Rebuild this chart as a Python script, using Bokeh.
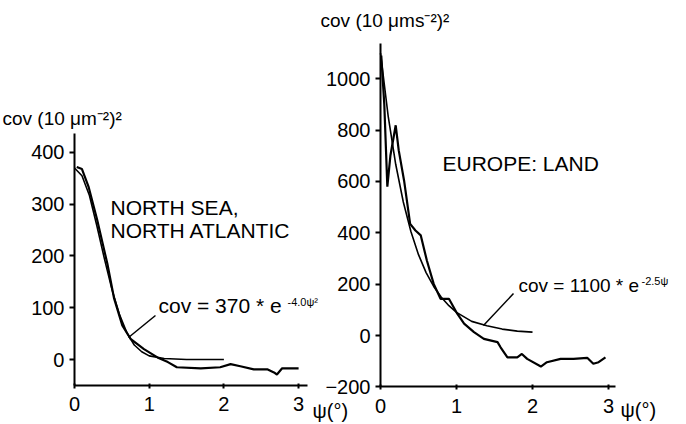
from bokeh.plotting import figure
from bokeh.models import Range1d, LinearAxis, FixedTicker, Label
from bokeh.embed import file_html
from bokeh.resources import INLINE

# ---- data: North Sea / North Atlantic (left panel) ----
left_obs_psi = [0.03, 0.10, 0.19, 0.30, 0.44, 0.53, 0.64, 0.75, 0.93, 1.11, 1.25, 1.37,
                1.69, 1.95, 2.09, 2.22, 2.40, 2.58, 2.67, 2.71, 2.78, 3.00]
left_obs_cov = [372, 368, 333, 272, 185, 118, 66, 40, 20, 4, -5, -15,
                -17, -15, -9, -13, -19, -19, -25, -29, -17, -17]
left_fit_psi = [0.0, 0.1, 0.2, 0.3, 0.4, 0.5, 0.6, 0.7, 0.8, 0.9, 1.0, 1.2, 1.5, 2.0]
left_fit_cov = [370, 355, 317, 258, 195, 136, 88, 52, 28, 15, 7, 2, 0, 0]

# ---- data: Europe land (right panel) ----
right_obs_psi = [0.01, 0.05, 0.09, 0.13, 0.20, 0.24, 0.31, 0.39, 0.46, 0.53, 0.61, 0.70,
                 0.79, 0.90, 1.01, 1.10, 1.23, 1.36, 1.54, 1.58, 1.67, 1.80, 1.86, 1.93,
                 2.11, 2.19, 2.37, 2.54, 2.72, 2.80, 2.87, 2.96]
right_obs_cov = [1090, 900, 580, 700, 819, 721, 604, 435, 409, 390, 292, 201,
                 143, 143, 85, 46, 13, -13, -26, -46, -85, -85, -72, -91,
                 -121, -104, -91, -91, -87, -110, -104, -85]
right_fit_psi = [0.0, 0.1, 0.2, 0.3, 0.4, 0.5, 0.6, 0.7, 0.8, 0.9, 1.0, 1.2, 1.4, 1.6, 1.8, 2.0]
right_fit_cov = [1100, 857, 667, 520, 405, 315, 245, 191, 149, 116, 90, 55, 38, 25, 17, 13]

left_y_ticks = [0, 100, 200, 300, 400]
right_y_ticks = [-200, 0, 200, 400, 600, 800, 1000]
x_ticks = [0, 1, 2, 3]

FONT = "Liberation Sans"

p = figure(width=686, height=424, output_backend="svg", toolbar_location=None,
           x_axis_type=None, y_axis_type=None, min_border=0,
           x_range=Range1d(-0.9906, 8.1928), y_range=Range1d(-125.6, 693.7))
p.outline_line_color = None
p.grid.visible = False
p.background_fill_color = "white"
p.border_fill_color = "white"
p.extra_x_ranges = {"r": Range1d(-5.0, 4.0263)}
p.extra_y_ranges = {"r": Range1d(-346.7, 1305.0)}

def style_axis(ax, ticks):
    ax.ticker = FixedTicker(ticks=ticks)
    ax.axis_line_width = 2
    ax.axis_line_color = "black"
    ax.major_tick_line_width = 2
    ax.major_tick_line_color = "black"
    ax.minor_tick_line_color = None
    ax.major_label_text_font = FONT
    ax.major_label_text_font_size = "20px"
    ax.major_label_text_color = "black"

# left panel axes
ly = LinearAxis(fixed_location=0, bounds=(-50, 437))
style_axis(ly, left_y_ticks)
ly.major_tick_out = 5
ly.major_tick_in = 0
ly.major_label_standoff = 5
p.add_layout(ly, "left")

lx = LinearAxis(fixed_location=-50, bounds=(0, 3.12))
style_axis(lx, x_ticks)
lx.major_tick_out = 3
lx.major_tick_in = 2
lx.major_label_standoff = 9
p.add_layout(lx, "below")

# right panel axes
ry = LinearAxis(x_range_name="r", y_range_name="r", fixed_location=0, bounds=(-200, 1138))
style_axis(ry, right_y_ticks)
ry.major_tick_out = 5
ry.major_tick_in = 0
ry.major_label_standoff = 5
p.add_layout(ry, "left")

rx = LinearAxis(x_range_name="r", y_range_name="r", fixed_location=-200, bounds=(0, 3.09))
style_axis(rx, x_ticks)
rx.major_tick_out = 3
rx.major_tick_in = 2
rx.major_label_standoff = 9
p.add_layout(rx, "below")

# curves
p.line(left_fit_psi, left_fit_cov, line_color="black", line_width=1.6)
p.line(left_obs_psi, left_obs_cov, line_color="black", line_width=2.2)
p.line(right_fit_psi, right_fit_cov, line_color="black", line_width=1.6,
       x_range_name="r", y_range_name="r")
p.line(right_obs_psi, right_obs_cov, line_color="black", line_width=2.2,
       x_range_name="r", y_range_name="r")

# annotation pointer lines
p.line([1.084, 0.723], [85, 42.5], line_color="black", line_width=1.5)
p.line([1.75, 1.355], [163.6, 39], line_color="black", line_width=1.5,
       x_range_name="r", y_range_name="r")

def add_label(x, y, text, size, rng=None, align="left"):
    kw = dict(x=x, y=y, text=text, text_font=FONT, text_font_size=size,
              text_color="black", text_align=align, text_baseline="middle")
    if rng:
        kw.update(x_range_name=rng, y_range_name=rng)
    p.add_layout(Label(**kw))

# left panel texts
add_label(-0.964, 465.7, "cov (10 μm⁻²)²", "19px")
add_label(0.482, 293.7, "NORTH SEA,", "21px")
add_label(0.482, 249, "NORTH ATLANTIC", "21px")
add_label(1.124, 104.3, "cov = 370 * e", "21px")
add_label(2.851, 112, "-4.0ψ²", "11px")
add_label(3.186, -98.6, "ψ(°)", "20px")

# right panel texts
add_label(-0.789, 1227, "cov (10 μms⁻²)²", "19px", "r")
add_label(0.816, 670, "EUROPE: LAND", "21px", "r")
add_label(1.816, 194.8, "cov = 1100 * e", "19px", "r")
add_label(3.434, 214, "-2.5ψ", "11px", "r")
add_label(3.158, -292, "ψ(°)", "20px", "r")

open("out.html", "w").write(file_html(p, INLINE))
